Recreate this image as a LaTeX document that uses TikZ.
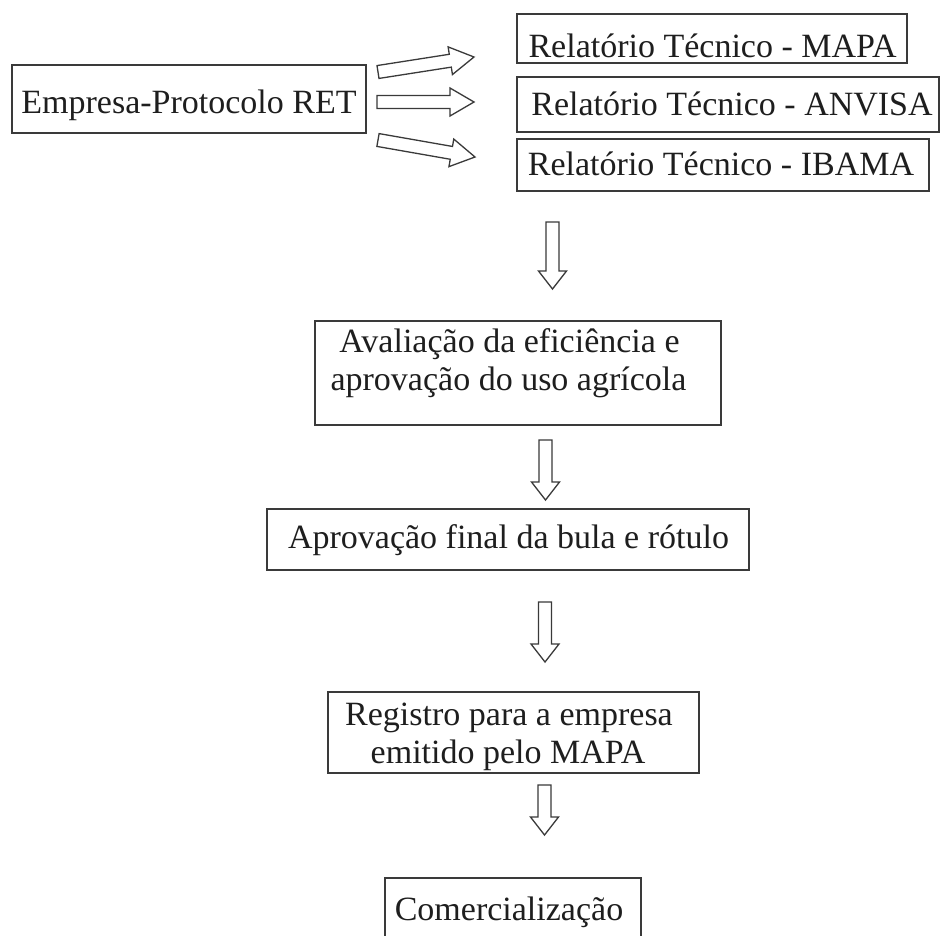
\documentclass[tikz,border=0pt]{standalone}
\usepackage{fontspec}
\setmainfont{Liberation Serif}
\usetikzlibrary{calc}
\definecolor{boxgray}{HTML}{3A3A3A}
\definecolor{txtcol}{HTML}{1E1E1E}
\tikzset{
  box/.style={draw=boxgray, line width=1.6pt, inner sep=0pt},
  lbl/.style={anchor=base, inner sep=0pt, text=txtcol, font=\fontsize{34}{38}\selectfont},
  barrow/.style={draw=boxgray, line width=1.3pt, fill=white, line join=miter},
}
\newcommand\blockarr[3]{%
  \draw[barrow] let \p1=($(#2)-(#1)$), \n1={atan2(\y1,\x1)}, \n2={veclen(\x1,\y1)} in
    [shift={(#1)}, rotate=\n1]
    (0pt,-6.5pt) -- ({(\n2-#3)*1pt},-6.5pt) -- ({(\n2-#3)*1pt},-14pt)
    -- ({\n2*1pt},0pt) -- ({(\n2-#3)*1pt},14pt) -- ({(\n2-#3)*1pt},6.5pt)
    -- (0pt,6.5pt) -- cycle;
}
\begin{document}
\begin{tikzpicture}[x=1pt,y=-1pt]
\clip (0,0) rectangle (941,935);
\fill[white] (0,0) rectangle (941,935);
% boxes
\node[box, minimum width=354pt, minimum height=68pt] (emp)    at (189,99)    {};
\node[box, minimum width=390pt, minimum height=49pt] (mapa)   at (712,38.5)  {};
\node[box, minimum width=422pt, minimum height=55pt] (anvisa) at (728,104.5) {};
\node[box, minimum width=412pt, minimum height=52pt] (ibama)  at (723,165)   {};
\node[box, minimum width=406pt, minimum height=104pt] (aval)  at (518,373)   {};
\node[box, minimum width=482pt, minimum height=61pt] (aprov)  at (508,539.5) {};
\node[box, minimum width=371pt, minimum height=81pt] (reg)    at (513.5,732.5) {};
\node[box, minimum width=256pt, minimum height=84pt] (com)    at (513,920)   {};
% texts
\node[lbl] (tEmp)  at (189,113)   {Empresa-Protocolo RET};
\node[lbl] (tMapa) at (712.5,57)  {Relatório Técnico - MAPA};
\node[lbl] (tAnv)  at (732,115)   {Relatório Técnico - ANVISA};
\node[lbl] (tIba)  at (721,175)   {Relatório Técnico - IBAMA};
\node[lbl] (tAv1)  at (509.5,352) {Avaliação da eficiência e};
\node[lbl] (tAv2)  at (508.5,390) {aprovação do uso agrícola};
\node[lbl] (tApr)  at (508.5,548) {Aprovação final da bula e rótulo};
\node[lbl] (tReg1) at (509,725)   {Registro para a empresa};
\node[lbl] (tReg2) at (508,763)   {emitido pelo MAPA};
\node[lbl] (tCom)  at (509,920)   {Comercialização};
% arrow end points
\coordinate (a1s) at (378,72);  \coordinate (a1e) at (474,57);
\coordinate (a2s) at (377,102); \coordinate (a2e) at (474,102);
\coordinate (a3s) at (378,140); \coordinate (a3e) at (475,157);
\coordinate (d1s) at (552.5,222); \coordinate (d1e) at (552.5,289);
\coordinate (d2s) at (545.5,440); \coordinate (d2e) at (545.5,500);
\coordinate (d3s) at (545,602);   \coordinate (d3e) at (545,662);
\coordinate (d4s) at (544.5,785); \coordinate (d4e) at (544.5,835);
\blockarr{a1s}{a1e}{24}
\blockarr{a2s}{a2e}{24}
\blockarr{a3s}{a3e}{24}
\blockarr{d1s}{d1e}{18}
\blockarr{d2s}{d2e}{18}
\blockarr{d3s}{d3e}{18}
\blockarr{d4s}{d4e}{18}
\end{tikzpicture}
\end{document}
